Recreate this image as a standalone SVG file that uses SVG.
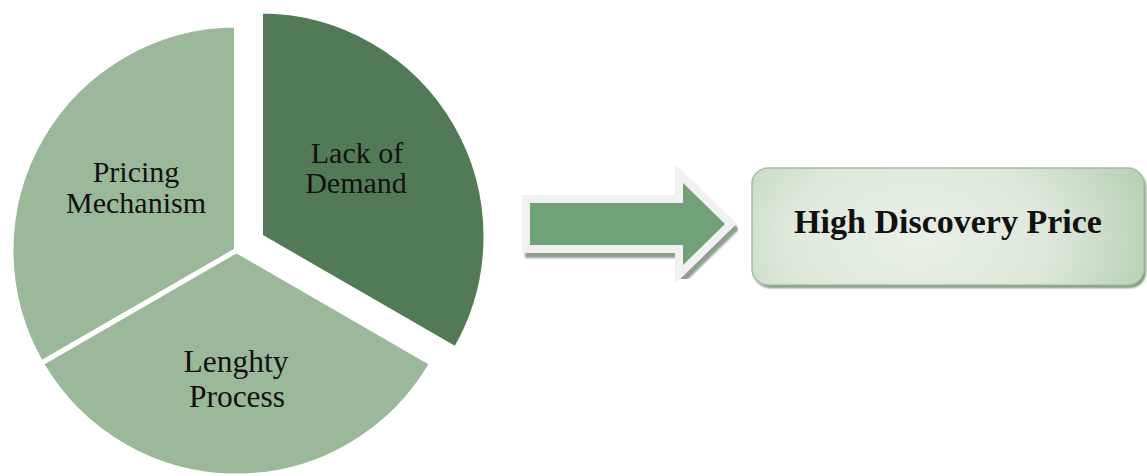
<svg xmlns="http://www.w3.org/2000/svg" width="1147" height="476" viewBox="0 0 1147 476">
  <defs>
    <style>
      .wedge { stroke: #ffffff; stroke-width: 5; stroke-linejoin: miter; }
      .light { fill: #9bb89a; }
      .dark { fill: #537a57; }
      .lbl { font-family: "Liberation Serif", "DejaVu Serif", serif; font-size: 30px; fill: #111111; text-anchor: middle; }
      .title { font-family: "Liberation Serif", "DejaVu Serif", serif; font-size: 34px; font-weight: bold; fill: #111111; text-anchor: middle; }
    </style>
    <radialGradient id="boxGrad" cx="0.42" cy="0.6" r="0.75" gradientTransform="translate(0.42 0.6) scale(1 2.2) translate(-0.42 -0.6)">
      <stop offset="0" stop-color="#e9f0e7"/>
      <stop offset="0.45" stop-color="#dde8da"/>
      <stop offset="1" stop-color="#a9c5a6"/>
    </radialGradient>
    <filter id="soft" x="-5%" y="-5%" width="110%" height="115%">
      <feGaussianBlur stdDeviation="1"/>
    </filter>
  </defs>

  <g id="node-pricing">
    <path class="wedge light" d="M236.5,250.5 L236.5,25 A225.5,225.5 0 0 0 41.21,363.25 Z"/>
    <text class="lbl" x="136" y="182">Pricing</text>
    <text class="lbl" x="136" y="213">Mechanism</text>
  </g>

  <g id="node-lengthy">
    <path class="wedge light" d="M236.5,250.5 L431.79,363.25 A225.5,225.5 0 0 1 41.21,363.25 Z"/>
    <text class="lbl" x="236" y="372" style="font-size:31.5px">Lenghty</text>
    <text class="lbl" x="237" y="407" style="font-size:31.5px">Process</text>
  </g>

  <g id="node-lack">
    <path class="wedge dark" d="M260.5,236.5 L260.5,11 A225.5,225.5 0 0 1 455.79,349.25 Z"/>
    <text class="lbl" x="357" y="163">Lack of</text>
    <text class="lbl" x="356" y="193">Demand</text>
  </g>

  <g id="connectors">
    <path d="M530,203 L683,203 L683,183 L725,224 L683,265 L683,245 L530,245 Z" transform="translate(3,5)" fill="#8d9f8d" stroke="#8d9f8d" stroke-width="16" stroke-linejoin="miter" filter="url(#soft)"/>
    <path d="M530,203 L683,203 L683,183 L725,224 L683,265 L683,245 L530,245 Z" fill="#6fa276" stroke="#f1f1f1" stroke-width="16" stroke-linejoin="miter" style="paint-order: stroke fill"/>
  </g>

  <g id="node-result">
    <rect x="754" y="171" width="392" height="117" rx="16" ry="16" fill="#7d927d" filter="url(#soft)"/>
    <rect x="752" y="168" width="392" height="117" rx="16" ry="16" fill="url(#boxGrad)" stroke="#a2c09f" stroke-width="1.5"/>
    <text class="title" x="948" y="233">High Discovery Price</text>
  </g>
</svg>
